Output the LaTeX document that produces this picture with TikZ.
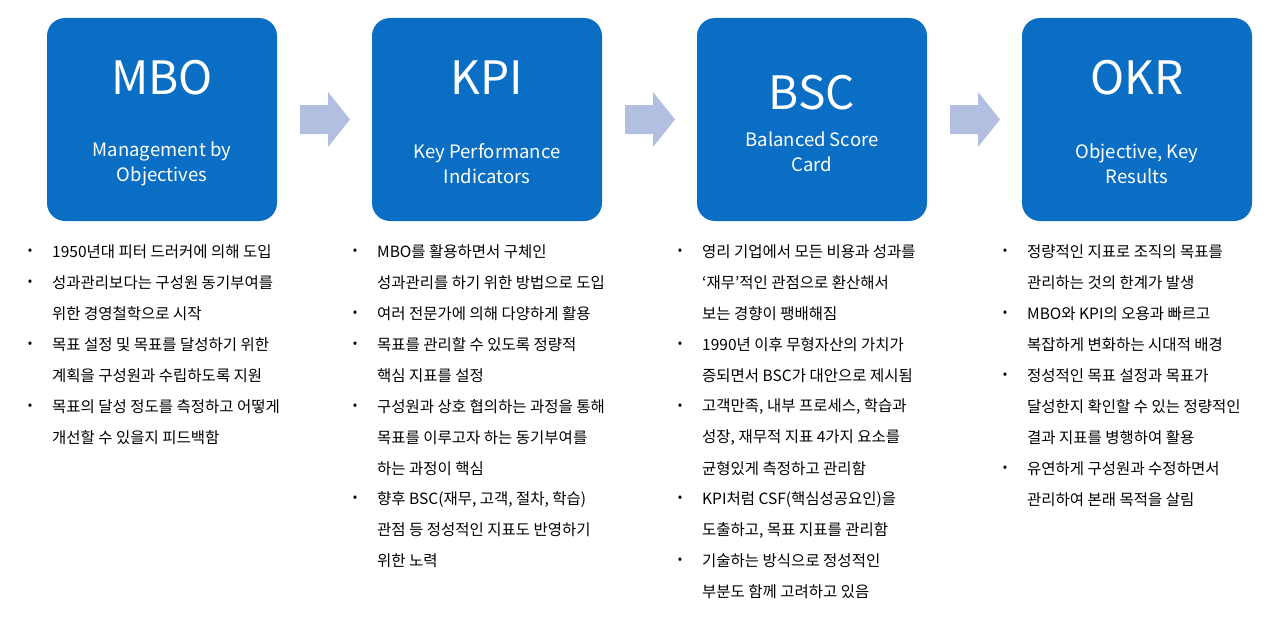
\documentclass[tikz,border=0pt]{standalone}
\usepackage{fontspec}
\setmainfont{Noto Sans CJK KR}
\definecolor{boxblue}{HTML}{0A6FC4}
\definecolor{arr}{HTML}{B3BFE0}
\newcommand\rowy[1]{-252-30.9*#1}
\newcommand\bl[4]{\node[bul] (b#1) at (#2,{\rowy{#3}}) {•};\node[txt] (t#1) at (#2+22,{\rowy{#3}}) {#4};}
\newcommand\cl[4]{\node[txt] (t#1) at (#2+22,{\rowy{#3}}) {#4};}
\begin{document}
\begin{tikzpicture}[x=1pt,y=1pt,
 box/.style={fill=boxblue,rounded corners=18pt,minimum width=230pt,minimum height=203pt,inner sep=0},
 ttl/.style={text=white,font=\fontsize{46}{50}\selectfont},
 sub/.style={text=white,font=\fontsize{18.5}{25}\selectfont,align=center},
 bul/.style={anchor=center,font=\fontsize{13}{15}\selectfont,inner sep=0},
 txt/.style={anchor=west,font=\fontsize{15.5}{18}\selectfont,inner sep=0},
 arrow/.style={fill=arr,draw=none}]
\useasboundingbox (0,0) rectangle (1280,-618);
\foreach \n/\x in {m/162,k/487,b/812,o/1137}{\node[box] (box\n) at (\x,-119.5) {};}
\node[ttl] (tm) at (162,-78) {MBO};
\node[sub] (sm) at (162,-164) {Management by\\Objectives};
\node[ttl] (tk) at (487,-78) {KPI};
\node[sub] (sk) at (487,-164) {Key Performance\\Indicators};
\node[ttl] (tb) at (812,-93) {BSC};
\node[sub] (sb) at (812,-152) {Balanced Score\\Card};
\node[ttl] (to) at (1137,-78) {OKR};
\node[sub] (so) at (1137,-164) {Objective, Key\\Results};
\foreach \x in {300,625,950}{\fill[arrow] (\x,-105)--(\x+28,-105)--(\x+28,-92)--(\x+50,-119.5)--(\x+28,-147)--(\x+28,-134)--(\x,-134)--cycle;}
% MBO
\bl{m0}{30}{0}{1950년대 피터 드러커에 의해 도입}
\bl{m1}{30}{1}{성과관리보다는 구성원 동기부여를}
\cl{m2}{30}{2}{위한 경영철학으로 시작}
\bl{m3}{30}{3}{목표 설정 및 목표를 달성하기 위한}
\cl{m4}{30}{4}{계획을 구성원과 수립하도록 지원}
\bl{m5}{30}{5}{목표의 달성 정도를 측정하고 어떻게}
\cl{m6}{30}{6}{개선할 수 있을지 피드백함}
% KPI
\bl{k0}{355}{0}{MBO를 활용하면서 구체인}
\cl{k1}{355}{1}{성과관리를 하기 위한 방법으로 도입}
\bl{k2}{355}{2}{여러 전문가에 의해 다양하게 활용}
\bl{k3}{355}{3}{목표를 관리할 수 있도록 정량적}
\cl{k4}{355}{4}{핵심 지표를 설정}
\bl{k5}{355}{5}{구성원과 상호 협의하는 과정을 통해}
\cl{k6}{355}{6}{목표를 이루고자 하는 동기부여를}
\cl{k7}{355}{7}{하는 과정이 핵심}
\bl{k8}{355}{8}{향후 BSC(재무, 고객, 절차, 학습)}
\cl{k9}{355}{9}{관점 등 정성적인 지표도 반영하기}
\cl{k10}{355}{10}{위한 노력}
% BSC
\bl{s0}{680}{0}{영리 기업에서 모든 비용과 성과를}
\cl{s1}{680}{1}{‘재무’적인 관점으로 환산해서}
\cl{s2}{680}{2}{보는 경향이 팽배해짐}
\bl{s3}{680}{3}{1990년 이후 무형자산의 가치가}
\cl{s4}{680}{4}{증되면서 BSC가 대안으로 제시됨}
\bl{s5}{680}{5}{고객만족, 내부 프로세스, 학습과}
\cl{s6}{680}{6}{성장, 재무적 지표 4가지 요소를}
\cl{s7}{680}{7}{균형있게 측정하고 관리함}
\bl{s8}{680}{8}{KPI처럼 CSF(핵심성공요인)을}
\cl{s9}{680}{9}{도출하고, 목표 지표를 관리함}
\bl{s10}{680}{10}{기술하는 방식으로 정성적인}
\cl{s11}{680}{11}{부분도 함께 고려하고 있음}
% OKR
\bl{o0}{1005}{0}{정량적인 지표로 조직의 목표를}
\cl{o1}{1005}{1}{관리하는 것의 한계가 발생}
\bl{o2}{1005}{2}{MBO와 KPI의 오용과 빠르고}
\cl{o3}{1005}{3}{복잡하게 변화하는 시대적 배경}
\bl{o4}{1005}{4}{정성적인 목표 설정과 목표가}
\cl{o5}{1005}{5}{달성한지 확인할 수 있는 정량적인}
\cl{o6}{1005}{6}{결과 지표를 병행하여 활용}
\bl{o7}{1005}{7}{유연하게 구성원과 수정하면서}
\cl{o8}{1005}{8}{관리하여 본래 목적을 살림}
\end{tikzpicture}
\end{document}
